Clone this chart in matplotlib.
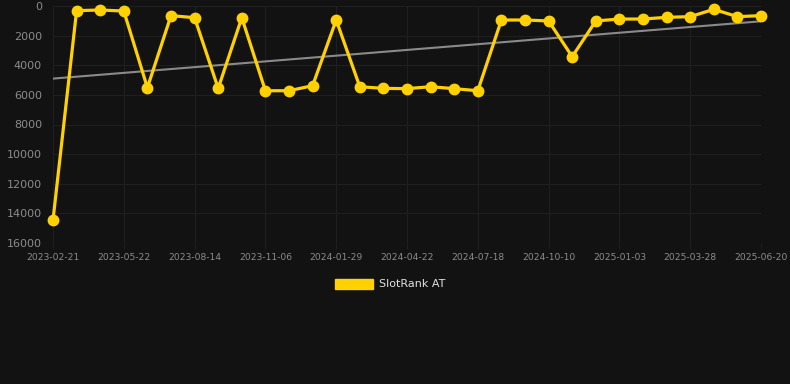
import matplotlib
matplotlib.use("Agg")
import matplotlib.pyplot as plt
import numpy as np
from matplotlib.patches import Patch

# rank values, one point every ~4 weeks (lower is better, axis inverted)
ranks = [14450, 315, 270, 340, 5515, 650, 790, 5560, 790, 5720, 5720, 5380,
         945, 5450, 5560, 5580, 5450, 5580, 5720, 945, 945, 1010, 3420, 1010,
         880, 880, 765, 720, 225, 720, 650]
tick_labels = ["2023-02-21", "2023-05-22", "2023-08-14", "2023-11-06",
               "2024-01-29", "2024-04-22", "2024-07-18", "2024-10-10",
               "2025-01-03", "2025-03-28", "2025-06-20"]
y_ticks = [0, 2000, 4000, 6000, 8000, 10000, 12000, 14000, 16000]

bg = "#121212"
yellow = "#FFD100"

x = np.arange(len(ranks))
slope, icpt = np.polyfit(x, ranks, 1)

fig = plt.figure(figsize=(7.9, 3.84), dpi=100, facecolor=bg)
ax = fig.add_axes([53/790, 1-243/384, (761-53)/790, (243-6)/384])
ax.set_facecolor(bg)

ax.plot(x, slope*x + icpt, color="#8a8a8a", lw=1.5, zorder=2)
ax.plot(x, ranks, color=yellow, lw=2.3, marker="o", ms=7.5,
        clip_on=False, zorder=3)

ax.set_xlim(0, len(ranks)-1)
ax.set_ylim(16000, 0)
ax.set_xticks(x[::3])
ax.set_xticklabels(tick_labels)
ax.set_yticks(y_ticks)

ax.grid(True, color="#1f1f1f", lw=0.8)
for s in ax.spines.values():
    s.set_visible(False)
ax.tick_params(axis="x", colors="#1f1f1f", labelcolor="#8c8c8c",
               labelsize=6.6, length=4, pad=3)
ax.tick_params(axis="y", length=0, labelcolor="#8c8c8c", labelsize=8, pad=8)

fig.legend(handles=[Patch(color=yellow, label="SlotRank AT")],
           loc="center", bbox_to_anchor=(390/790, 1-284/384), frameon=False,
           handlelength=3.5, handleheight=1.0, handletextpad=0.5,
           labelcolor="#e0e0e0", fontsize=8)

fig.savefig("out.png", dpi=100, facecolor=bg)
